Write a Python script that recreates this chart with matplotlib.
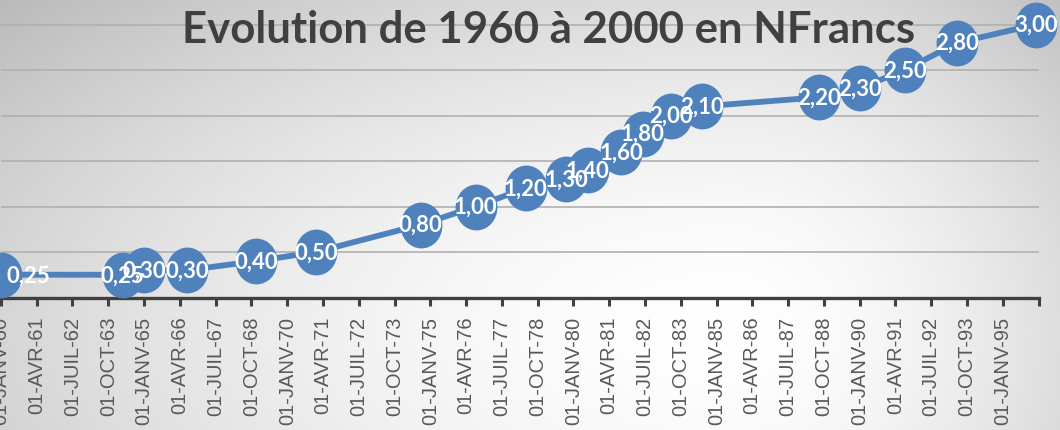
import numpy as np
import matplotlib.pyplot as plt
from matplotlib.path import Path
from matplotlib.transforms import Affine2D

# prix en nouveaux francs, date de chaque changement
dates = np.array([
    '1960-01-01', '1964-04-01', '1965-01-01', '1966-07-01', '1968-12-01',
    '1971-01-01', '1974-09-01', '1976-08-01', '1978-05-01', '1979-10-01',
    '1980-07-01', '1981-09-01', '1982-06-01', '1983-06-01', '1984-07-01',
    '1988-08-01', '1990-01-01', '1991-08-01', '1993-06-01', '1996-03-01',
], dtype='datetime64[D]')
prix = [0.25, 0.25, 0.30, 0.30, 0.40, 0.50, 0.80, 1.00, 1.20, 1.30,
        1.40, 1.60, 1.80, 2.00, 2.10, 2.20, 2.30, 2.50, 2.80, 3.00]

tick_labels = [
    '01-JANV-60', '01-AVR-61', '01-JUIL-62', '01-OCT-63', '01-JANV-65',
    '01-AVR-66', '01-JUIL-67', '01-OCT-68', '01-JANV-70', '01-AVR-71',
    '01-JUIL-72', '01-OCT-73', '01-JANV-75', '01-AVR-76', '01-JUIL-77',
    '01-OCT-78', '01-JANV-80', '01-AVR-81', '01-JUIL-82', '01-OCT-83',
    '01-JANV-85', '01-AVR-86', '01-JUIL-87', '01-OCT-88', '01-JANV-90',
    '01-AVR-91', '01-JUIL-92', '01-OCT-93', '01-JANV-95', '',
]
titre = 'Evolution de 1960 à 2000 en NFrancs'

BLEU = '#4f81bd'
W, H = 1060, 431

fig = plt.figure(figsize=(W / 100, H / 100), dpi=100)

# fond en degrade radial (clair vers le centre droit)
bg = fig.add_axes([0, 0, 1, 1], zorder=-10)
yy, xx = np.mgrid[0:H, 0:W]
cx, cy = 730, 330
rx = np.where(xx < cx, 780, 400)
d = np.sqrt(((xx - cx) / rx) ** 2 + ((yy - cy) / 380) ** 2)
lum = 1 - 0.18 * np.clip(d, 0, 1.3) ** 1.7
bg.imshow(np.dstack([lum] * 3), aspect='auto', extent=[0, W, H, 0])
bg.axis('off')

# zone de tracé : x0 = 1px, x1 = 1038.5px, y=0 a 298.5px, 91px par unite
ax = fig.add_axes([1 / W, (H - 298.5) / H, 1037.5 / W, 3.5 * 91 / H])
ax.set_facecolor('none')

# marqueur legerement ovale
rond = Path.unit_circle().transformed(Affine2D().scale(0.91, 1.0))
ax.plot(dates, prix, color=BLEU, lw=4.2, marker=rond, ms=32,
        mfc=BLEU, mec=BLEU, clip_on=False, zorder=3)

for i, (dt, v) in enumerate(zip(dates, prix)):
    lab = f'{v:.2f}'.replace('.', ',')
    if i == 0:
        ax.annotate(lab, (dt, v), xytext=(4, 0), textcoords='offset points',
                    ha='left', va='center', color='white', fontsize=16,
                    fontweight='bold', family='Lato', zorder=4,
                    annotation_clip=False)
    else:
        ax.annotate(lab, (dt, v), ha='center', va='center', color='white',
                    fontsize=16, fontweight='bold', family='Lato', zorder=4,
                    annotation_clip=False)

ax.set_xlim(np.datetime64('1960-01-01'), np.datetime64('1996-04-01'))
ax.set_ylim(0, 3.5)
ax.set_yticks(np.arange(0.5, 3.51, 0.5))
ax.yaxis.grid(True, color='#b0b0b0', lw=1.2)
ax.set_axisbelow(True)
ax.tick_params(axis='y', length=0, labelleft=False)

ticks = np.arange(np.datetime64('1960-01'), np.datetime64('1996-05'), 15)
ax.set_xticks(ticks.astype('datetime64[D]'))
ax.set_xticklabels(tick_labels, rotation=90, fontsize=14.5,
                   family='Liberation Sans', color='#595959')
ax.tick_params(axis='x', direction='out', length=6, width=2.2,
               color='#404040', pad=7)

for s in ['top', 'left', 'right']:
    ax.spines[s].set_visible(False)
ax.spines['bottom'].set_color('#404040')
ax.spines['bottom'].set_linewidth(2.4)

fig.text(549 / W, 1 - 43 / H, titre, ha='center', va='baseline',
         fontsize=31.5, fontweight='bold', family='Lato', color='#404040')

fig.savefig('out.png', dpi=100)
